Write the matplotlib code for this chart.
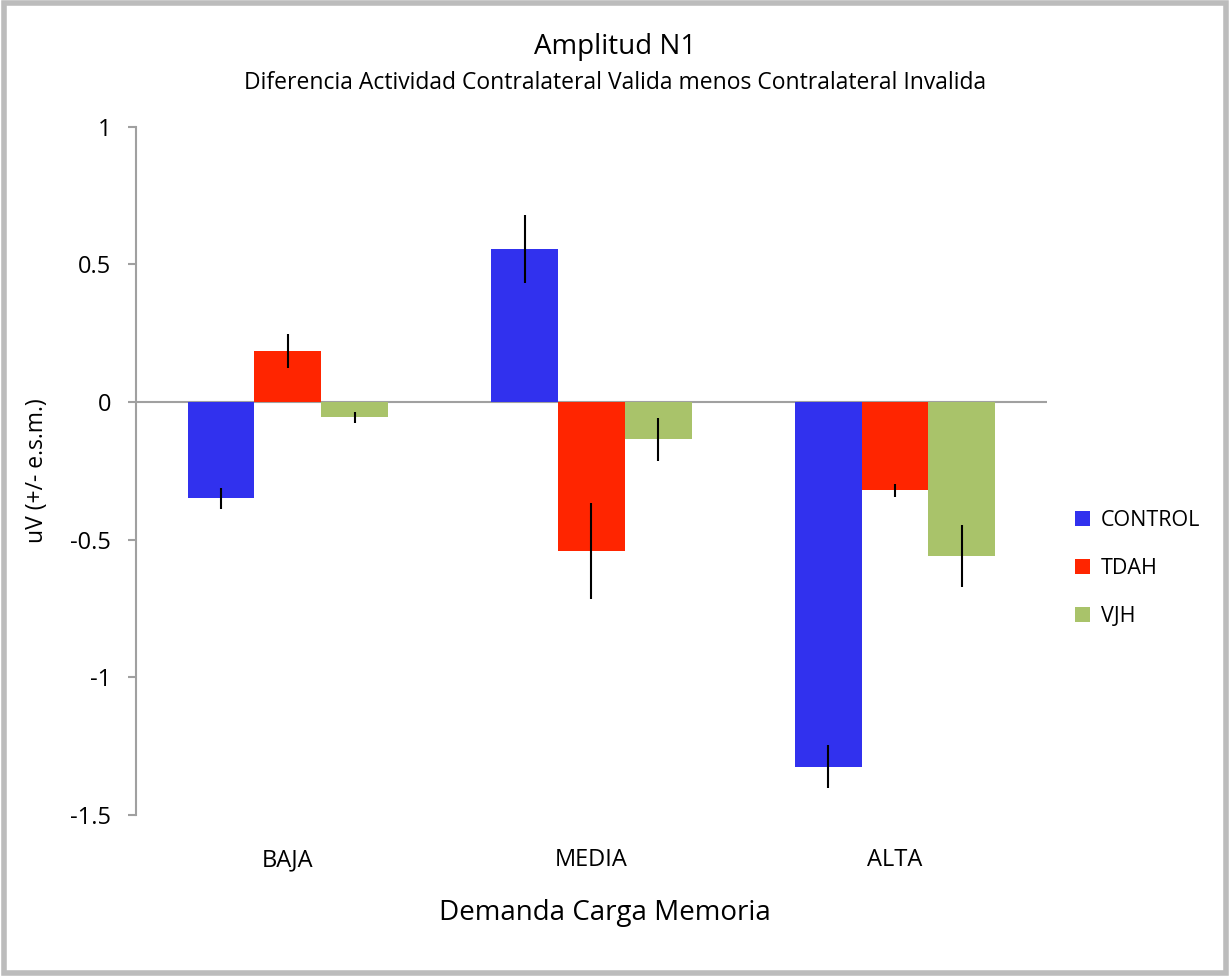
import numpy as np
import matplotlib.pyplot as plt
from matplotlib.patches import Rectangle

plt.rcParams['font.family'] = ['Open Sans', 'DejaVu Sans']

# Mean N1 amplitude difference (uV) and standard error per group and load level
levels = ['BAJA', 'MEDIA', 'ALTA']
groups = ['CONTROL', 'TDAH', 'VJH']
colors = ['#3131EE', '#FF2500', '#A9C36A']

control_mean = [-0.35, 0.555, -1.325]
tdah_mean = [0.185, -0.54, -0.32]
vjh_mean = [-0.055, -0.135, -0.56]

control_err = [0.038, 0.124, 0.078]
tdah_err = [0.062, 0.175, 0.024]
vjh_err = [0.02, 0.078, 0.113]

means = [control_mean, tdah_mean, vjh_mean]
errors = [control_err, tdah_err, vjh_err]

fig = plt.figure(figsize=(12.3, 9.76), dpi=100)
ax = fig.add_axes([0.1106, 0.165, 0.7405, 0.705])

x = np.arange(len(levels))
width = 0.22
for i, (g, c) in enumerate(zip(groups, colors)):
    ax.bar(x + (i - 1) * width, means[i], width, color=c, label=g,
           yerr=errors[i], error_kw=dict(ecolor='black', elinewidth=1.5, capsize=0))

ax.axhline(0, color='#a0a0a0', lw=1.5, zorder=0.5)
ax.set_xlim(-0.5, 2.5)
ax.set_ylim(-1.5, 1)
ax.set_yticks([1, 0.5, 0, -0.5, -1, -1.5])
ax.set_yticklabels(['1', '0.5', '0', '-0.5', '-1', '-1.5'])
ax.set_xticks(x)
ax.set_xticklabels(levels)

for side in ['top', 'right', 'bottom']:
    ax.spines[side].set_visible(False)
ax.spines['left'].set_color('#a0a0a0')
ax.spines['left'].set_linewidth(1.5)
ax.tick_params(axis='y', length=6, width=1.5, color='#a0a0a0', pad=12, labelsize=17)
ax.tick_params(axis='x', length=0, pad=24, labelsize=17)

fig.text(605 / 1230, 1 - 913 / 976, 'Demanda Carga Memoria', ha='center', va='center',
         fontsize=20)
fig.text(37 / 1230, 1 - 471 / 976, 'uV (+/- e.s.m.)', ha='center', va='center',
         rotation=90, fontsize=16.5)

fig.text(0.5, 1 - 47 / 976, 'Amplitud N1', ha='center', va='center', fontsize=20)
fig.text(0.5, 1 - 83 / 976,
         'Diferencia Actividad Contralateral Valida menos Contralateral Invalida',
         ha='center', va='center', fontsize=16.5)

ax.legend(loc='center left', bbox_to_anchor=(1.01, 0.358), frameon=False,
          fontsize=15.5, handlelength=0.7, handleheight=0.7, handletextpad=0.5,
          labelspacing=1.25)

# gray frame around the whole figure
fig.patches.append(Rectangle((0.003, 0.003), 0.994, 0.994, transform=fig.transFigure,
                             fill=False, edgecolor='#bcbcbc', lw=4))

fig.savefig('out.png', dpi=100)
